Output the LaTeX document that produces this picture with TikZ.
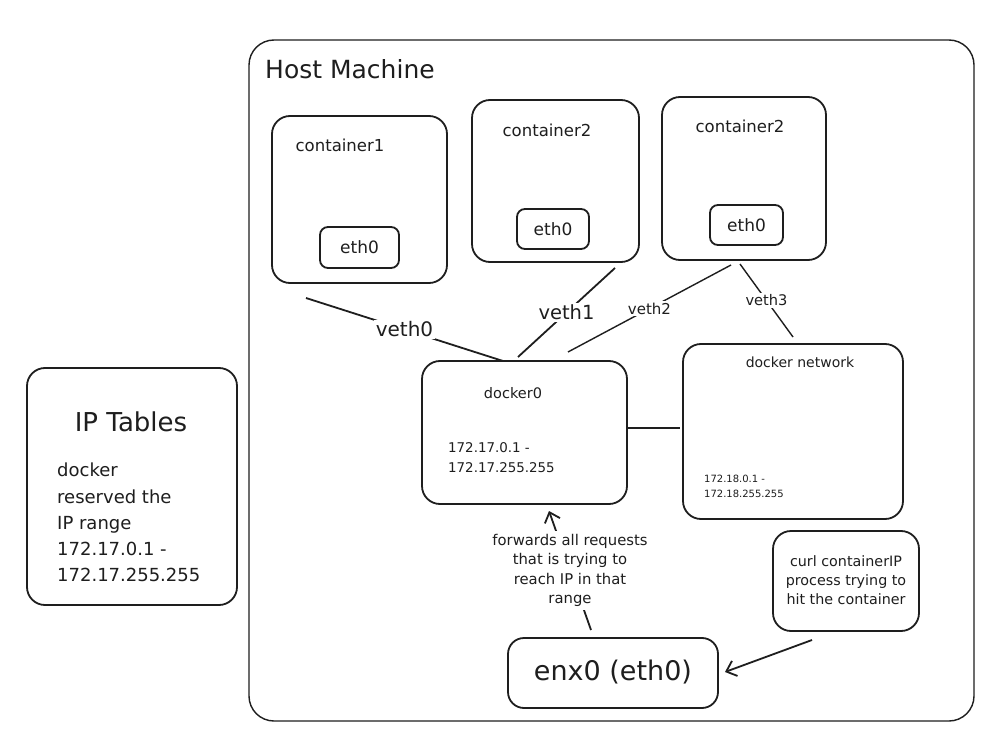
\documentclass[tikz,border=0pt]{standalone}
\usepackage{fontspec}
\setmainfont{DejaVu Sans}
\usetikzlibrary{arrows.meta}
\definecolor{ink}{HTML}{1E1E1E}
\begin{document}
\begin{tikzpicture}[x=1pt,y=-1pt,
  box/.style={draw=ink, line width=1.8pt, rounded corners=18pt, inner sep=0pt},
  smallbox/.style={box, rounded corners=8pt},
  txt/.style={text=ink, inner sep=0pt},
  wire/.style={draw=ink, line width=1.8pt},
  lbl/.style={txt, fill=white, inner sep=2pt},
  arr/.style={wire, -{Straight Barb[length=9pt,width=16pt,line width=1.8pt]}}
]
\useasboundingbox (0,0) rectangle (994,741);
\fill[white] (0,0) rectangle (994,741);

% boxes
\node[box, line width=1.4pt, rounded corners=25pt, minimum width=725pt, minimum height=681pt] (host) at (611.5,380.5) {};
\node[box, minimum width=175pt, minimum height=167pt] (c1) at (359.5,199.5) {};
\node[smallbox, minimum width=79pt, minimum height=41pt] (e1) at (359.5,247.5) {};
\node[box, minimum width=167pt, minimum height=162pt] (c2) at (555.5,181) {};
\node[smallbox, minimum width=72pt, minimum height=40pt] (e2) at (553,229) {};
\node[box, minimum width=164pt, minimum height=163pt] (c3) at (744,178.5) {};
\node[smallbox, minimum width=73pt, minimum height=40pt] (e3) at (746.5,225) {};
\node[box, minimum width=205pt, minimum height=143pt] (d0) at (524.5,432.5) {};
\node[box, minimum width=220pt, minimum height=175pt] (dn) at (793,431.5) {};
\node[box, minimum width=210pt, minimum height=237pt] (ipt) at (132,486.5) {};
\node[box, rounded corners=16pt, minimum width=210pt, minimum height=70pt] (enx) at (613,673) {};
\node[box, rounded corners=18pt, minimum width=146pt, minimum height=100pt] (curl) at (846,581) {};

% texts
\node[txt, anchor=base west, font=\fontsize{25}{30}\selectfont] (thost) at (265,79) {Host Machine};
\node[txt, anchor=base, font=\fontsize{16.5}{20}\selectfont] (tc1) at (340,152) {container1};
\node[txt, anchor=base, font=\fontsize{16.5}{20}\selectfont] (tc2) at (547,137) {container2};
\node[txt, anchor=base, font=\fontsize{16.5}{20}\selectfont] (tc3) at (740,133) {container2};
\node[txt, font=\fontsize{17}{20}\selectfont] (te1) at (e1) {eth0};
\node[txt, font=\fontsize{17}{20}\selectfont] (te2) at (e2) {eth0};
\node[txt, font=\fontsize{17}{20}\selectfont] (te3) at (e3) {eth0};
\node[txt, anchor=base, font=\fontsize{14.5}{18}\selectfont] (td0) at (513,398) {docker0};
\node[txt, anchor=north west, align=left, font=\fontsize{13.4}{20}\selectfont] (td0ip) at (448,442) {172.17.0.1 -\\172.17.255.255};
\node[txt, anchor=base, font=\fontsize{14}{18}\selectfont] (tdn) at (800,367) {docker network};
\node[txt, anchor=north west, align=left, font=\fontsize{10}{15}\selectfont] (tdnip) at (704,475) {172.18.0.1 -\\172.18.255.255};
\node[txt, anchor=base, font=\fontsize{26}{30}\selectfont] (tipt) at (131,431) {IP Tables};
\node[txt, anchor=north west, align=left, font=\fontsize{18}{26.2}\selectfont] (tiptb) at (57,463) {docker\\reserved the\\IP range\\172.17.0.1 -\\172.17.255.255};
\node[txt, align=center, font=\fontsize{14.3}{19}\selectfont] (tcurl) at (846,580) {curl containerIP\\process trying to\\hit the container};
\node[txt, anchor=base, font=\fontsize{27}{30}\selectfont] (tenx) at (613,680) {enx0 (eth0)};

% anchor points of connectors
\coordinate (v0a) at (306,298);
\coordinate (v0b) at (503,361);
\coordinate (v1a) at (615,268);
\coordinate (v1b) at (518,357);
\coordinate (v2a) at (731,265);
\coordinate (v2b) at (568,352);
\coordinate (v3a) at (740,264);
\coordinate (v3b) at (793,337);
\coordinate (la) at (628,428);
\coordinate (lb) at (680,428);
\coordinate (fa) at (591,630);
\coordinate (fb) at (549,511);
\coordinate (ca) at (812,640);
\coordinate (cb) at (725,672);

% connectors
\draw[wire] (v0a) -- node[lbl, font=\fontsize{20}{24}\selectfont] (lv0) {veth0} (v0b);
\draw[wire] (v1a) -- node[lbl, font=\fontsize{19.5}{24}\selectfont] (lv1) {veth1} (v1b);
\draw[wire, line width=1.4pt] (v2a) -- node[lbl, font=\fontsize{15}{18}\selectfont] (lv2) {veth2} (v2b);
\draw[wire, line width=1.4pt] (v3a) -- node[lbl, font=\fontsize{14.6}{18}\selectfont] (lv3) {veth3} (v3b);
\draw[wire, line width=2.4pt] (la) -- (lb);
\draw[arr] (fa) -- node[lbl, align=center, inner sep=3pt, font=\fontsize{14.8}{19.5}\selectfont] (lf) {forwards all requests\\that is trying to\\reach IP in that\\range} (fb);
\draw[arr] (ca) -- (cb);
\end{tikzpicture}
\end{document}
